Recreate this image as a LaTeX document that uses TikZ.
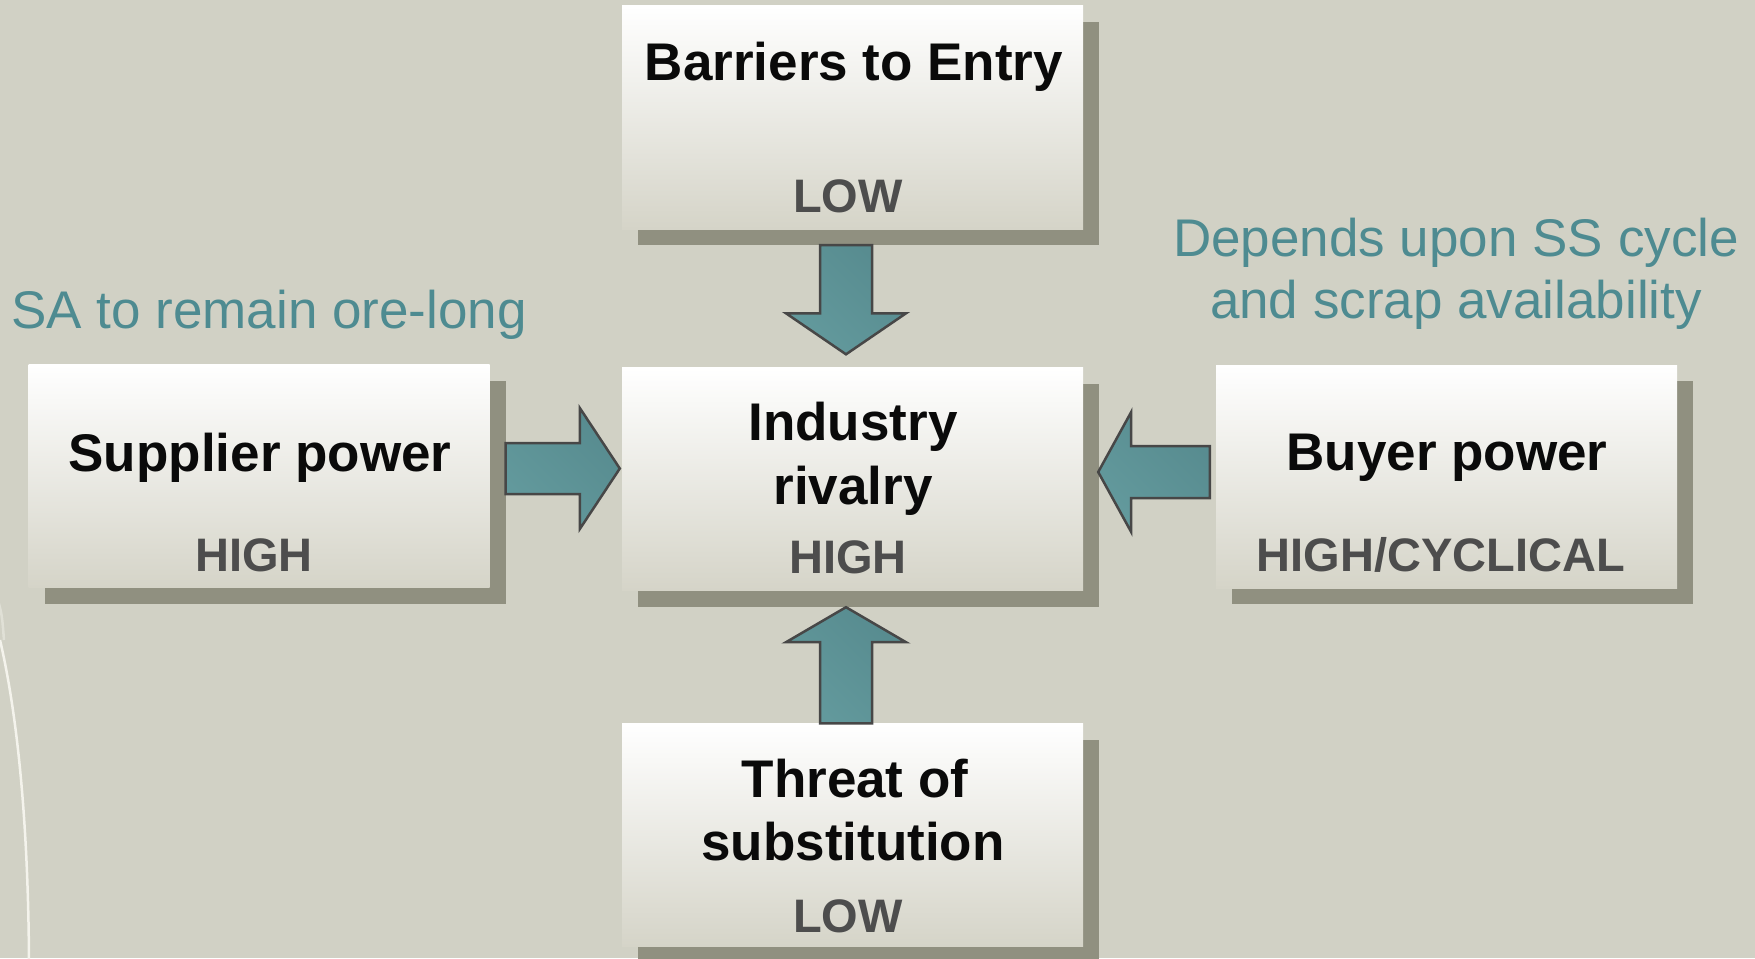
\documentclass[tikz,border=0pt]{standalone}
\usepackage{fontspec}
\setmainfont{Liberation Sans}
\usetikzlibrary{calc,shadows}

\definecolor{bgc}{HTML}{D1D1C5}
\definecolor{shadowc}{HTML}{909080}
\definecolor{boxbottom}{HTML}{D5D4C8}
\definecolor{tealtext}{HTML}{4E8B91}
\definecolor{arrowlight}{HTML}{639A9D}
\definecolor{arrowdark}{HTML}{578B8F}
\definecolor{arrowline}{HTML}{474747}
\definecolor{subgray}{HTML}{4D4D4D}
\definecolor{curvec}{HTML}{F4F3EC}

% block arrow from #1 to tip #2: shaft half width #3, head half width #4, head length #5
\newcommand{\fatarrow}[5]{%
  \coordinate (fa-h) at ($(#2)!#5!(#1)$);
  \path[blockarrow]
    ($(#1)!#3!90:(#2)$) -- ($(fa-h)!#3!90:(#2)$) -- ($(fa-h)!#4!90:(#2)$) --
    (#2) --
    ($(fa-h)!#4!-90:(#2)$) -- ($(fa-h)!#3!-90:(#2)$) -- ($(#1)!#3!-90:(#2)$) -- cycle;
}

\tikzset{
  forcebox/.style={rectangle, inner sep=0pt, minimum width=461pt, minimum height=223pt,
    top color=white, bottom color=boxbottom,
    drop shadow={shadow xshift=16pt, shadow yshift=-16pt, fill=shadowc, opacity=1}},
  title/.style={anchor=base, inner sep=0pt, text=black!96,
    font=\fontsize{53}{64}\selectfont\bfseries},
  rating/.style={anchor=base, inner sep=0pt, text=subgray,
    font=\fontsize{47}{56}\selectfont\bfseries},
  note/.style={anchor=base, inner sep=0pt, text=tealtext,
    font=\fontsize{53}{62}\selectfont},
  blockarrow/.style={draw=arrowline, line width=2.5pt, line join=miter,
    left color=arrowlight, right color=arrowdark, shading angle=135}
}

\begin{document}
\begin{tikzpicture}[x=1pt, y=-1pt]
  \useasboundingbox (0,0) rectangle (1755,958);
  \fill[bgc] (0,0) rectangle (1755,958);

  % faint decorative arc on the left edge
  \draw[curvec, line width=2.5pt, opacity=0.45] (-2,600) .. controls (2,615) .. (4,640);
  \draw[curvec, line width=2.5pt] (0,640) .. controls (14,700) and (28,800) .. (29,960);

  % the five forces
  \node[forcebox] (barriers) at (852.5,117.5) {};
  \node[forcebox] (rivalry)  at (852.5,479) {};
  \node[forcebox] (supplier) at (259,476) {};
  \node[forcebox] (buyer)    at (1446.5,476.5) {};
  \node[forcebox] (threat)   at (852.5,835) {};

  % box texts
  \node[title]  (t-barriers) at (854,80)  {Barriers to Entry};
  \node[rating] (r-barriers) at (848,212) {LOW};

  \node[title]  (t-rivalry1) at (853,440) {Industry};
  \node[title]  (t-rivalry2) at (853,504) {rivalry};
  \node[rating] (r-rivalry)  at (848,573) {HIGH};

  \node[title]  (t-supplier) at (260,471) {Supplier power};
  \node[rating] (r-supplier) at (254,571) {HIGH};

  \node[title]  (t-buyer) at (1447,470) {Buyer power};
  \node[rating] (r-buyer) at (1441,571) {HIGH/CYCLICAL};

  \node[title]  (t-threat1) at (855,797) {Threat of};
  \node[title]  (t-threat2) at (853,860) {substitution};
  \node[rating] (r-threat)  at (848,932) {LOW};

  % side notes
  \node[note, anchor=base west] (n-supplier) at (11,328) {SA to remain ore-long};
  \node[note] (n-buyer1) at (1456,256) {Depends upon SS cycle};
  \node[note] (n-buyer2) at (1456,318) {and scrap availability};

  % arrow end points
  \coordinate (dn-s) at ($(barriers.south)+(-6.5,16)$);
  \coordinate (dn-t) at ($(rivalry.north)+(-6.5,-13)$);
  \coordinate (up-s) at ($(threat.north)+(-6.5,0)$);
  \coordinate (up-t) at ($(rivalry.south)+(-6.5,16.5)$);
  \coordinate (rt-s) at ($(supplier.east)+(16,-7.5)$);
  \coordinate (rt-t) at ($(rivalry.west)+(-2,-10.5)$);
  \coordinate (lt-s) at ($(buyer.west)+(-6,-4.5)$);
  \coordinate (lt-t) at ($(rivalry.east)+(15,-7)$);

  % block arrows into industry rivalry
  \fatarrow{dn-s}{dn-t}{26pt}{60pt}{41pt}
  \fatarrow{up-s}{up-t}{26pt}{60pt}{35pt}
  \fatarrow{rt-s}{rt-t}{25.5pt}{60.5pt}{40pt}
  \fatarrow{lt-s}{lt-t}{26pt}{60pt}{33pt}
\end{tikzpicture}
\end{document}
